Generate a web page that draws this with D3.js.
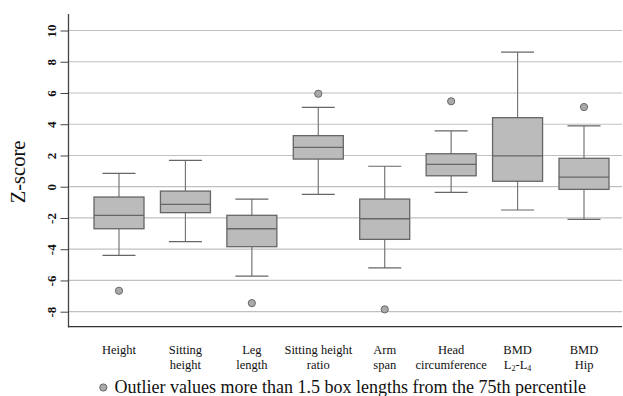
<!DOCTYPE html>
<html>
<head>
<meta charset="utf-8">
<script src="https://cdn.jsdelivr.net/npm/d3@7"></script>
<style>
  body { margin: 0; background: #fff; }
  svg { display: block; font-family: "Liberation Serif", "Times New Roman", serif; }
</style>
</head>
<body>
<div id="chart"></div>
<script>
const width = 623,
      height = 396;

// one entry per box
const categories = ["Height", "Sitting height", "Leg length", "Sitting height ratio",
                    "Arm span", "Head circumference", "BMD L2-L4", "BMD Hip"];
const labelLines = [["Height"], ["Sitting", "height"], ["Leg", "length"], ["Sitting height", "ratio"],
                    ["Arm", "span"], ["Head", "circumference"], ["BMD", "L2-L4"], ["BMD", "Hip"]];
const whiskerLow  = [-4.39, -3.52, -5.72, -0.49, -5.20, -0.36, -1.49, -2.09];
const q1          = [-2.69, -1.66, -3.84,  1.77, -3.37,  0.70,  0.35, -0.17];
const median      = [-1.83, -1.13, -2.69,  2.52, -2.05,  1.43,  1.98,  0.62];
const q3          = [-0.66, -0.28, -1.83,  3.27, -0.79,  2.11,  4.42,  1.82];
const whiskerHigh = [ 0.86,  1.69, -0.79,  5.08,  1.31,  3.57,  8.62,  3.90];
const outliers    = [[-6.66], [], [-7.45], [5.95], [-7.85], [5.47], [], [5.10]];
const yTicks = [-8, -6, -4, -2, 0, 2, 4, 6, 8, 10];

const margin = {left: 68.5, top: 14, right: 1, bottom: 69};

const svg = d3.select("#chart").append("svg")
  .attr("width", width)
  .attr("height", height);

const y = d3.scaleLinear()
  .domain([-8, 10])
  .range([311.7, 30.5]);

const x = d3.scalePoint()
  .domain(categories)
  .range([119, 584]);

const boxW = 50, capW = 33;

// grid lines
svg.append("g").selectAll("line")
  .data(yTicks)
  .enter().append("line")
  .attr("x1", margin.left)
  .attr("x2", width - margin.right)
  .attr("y1", d => y(d))
  .attr("y2", d => y(d))
  .style("stroke", "#c0c0c0")
  .style("stroke-width", 1.2);

// y axis
const yAxis = svg.append("g")
  .attr("transform", `translate(${margin.left},0)`)
  .call(d3.axisLeft(y).tickValues(yTicks).tickSize(8).tickFormat(d => String(d)));
yAxis.select(".domain").remove();
yAxis.selectAll(".tick line").style("stroke", "#444");
yAxis.selectAll(".tick text")
  .attr("x", null).attr("dy", null)
  .attr("transform", "translate(-12.5,0) rotate(-90)")
  .attr("text-anchor", "middle")
  .style("font-family", "'Liberation Serif', serif")
  .style("font-weight", "bold")
  .style("font-size", "13px")
  .style("fill", "#111");

svg.append("line")
  .attr("x1", margin.left).attr("x2", margin.left)
  .attr("y1", margin.top).attr("y2", 327.4)
  .style("stroke", "#444").style("stroke-width", 1.3);
svg.append("line")
  .attr("x1", margin.left).attr("x2", width - margin.right)
  .attr("y1", 326.7).attr("y2", 326.7)
  .style("stroke", "#333").style("stroke-width", 1.3);

svg.append("text")
  .attr("transform", "translate(25,172) rotate(-90)")
  .attr("text-anchor", "middle")
  .style("font-size", "20.5px")
  .style("fill", "#111")
  .text("Z-score");

// boxes
const boxes = svg.append("g").selectAll("g")
  .data(categories)
  .enter().append("g")
  .attr("transform", d => `translate(${x(d)},0)`);

boxes.append("line")
  .attr("y1", (d, i) => y(whiskerLow[i]))
  .attr("y2", (d, i) => y(whiskerHigh[i]))
  .style("stroke", "#777").style("stroke-width", 1.2);
[whiskerLow, whiskerHigh].forEach((arr) => {
  boxes.append("line")
    .attr("x1", -capW / 2).attr("x2", capW / 2)
    .attr("y1", (d, i) => y(arr[i]))
    .attr("y2", (d, i) => y(arr[i]))
    .style("stroke", "#666").style("stroke-width", 1.2);
});
boxes.append("rect")
  .attr("x", -boxW / 2)
  .attr("width", boxW)
  .attr("y", (d, i) => y(q3[i]))
  .attr("height", (d, i) => y(q1[i]) - y(q3[i]))
  .style("fill", "#bbbbbb")
  .style("stroke", "#666")
  .style("stroke-width", 1.3);
boxes.append("line")
  .attr("x1", -boxW / 2).attr("x2", boxW / 2)
  .attr("y1", (d, i) => y(median[i]))
  .attr("y2", (d, i) => y(median[i]))
  .style("stroke", "#666").style("stroke-width", 1.3);
boxes.selectAll("circle")
  .data((d, i) => outliers[i])
  .enter().append("circle")
  .attr("cy", d => y(d))
  .attr("r", 3.6)
  .style("fill", "#aaaaaa")
  .style("stroke", "#666")
  .style("stroke-width", 1);

// category labels
boxes.each(function (d, i) {
  const t = d3.select(this).append("text")
    .attr("text-anchor", "middle")
    .style("font-size", "12.5px")
    .style("fill", "#111");
  labelLines[i].forEach((line, j) => {
    const ts = t.append("tspan").attr("x", 0).attr("y", 354 + j * 14.5);
    if (line === "L2-L4") {
      ts.text("L");
      ts.append("tspan").attr("baseline-shift", "-30%").style("font-size", "8px").text("2");
      ts.append("tspan").text("-L");
      ts.append("tspan").attr("baseline-shift", "-30%").style("font-size", "8px").text("4");
    } else {
      ts.text(line);
    }
  });
});

// legend
svg.append("circle")
  .attr("cx", 103.3).attr("cy", 387.5).attr("r", 3.6)
  .style("fill", "#aaaaaa").style("stroke", "#666").style("stroke-width", 1);
svg.append("text")
  .attr("x", 114.5).attr("y", 393)
  .style("font-size", "18px")
  .style("fill", "#111")
  .text("Outlier values more than 1.5 box lengths from the 75th percentile");
</script>
</body>
</html>
